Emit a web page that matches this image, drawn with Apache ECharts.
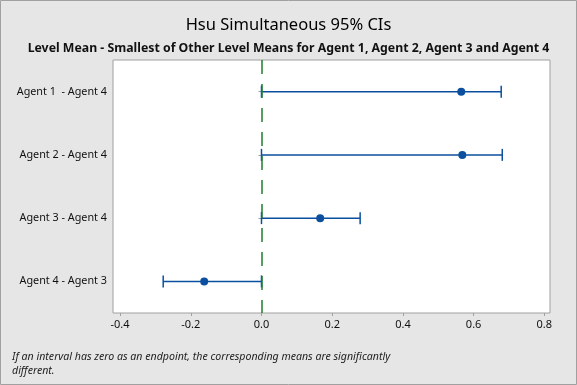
<!DOCTYPE html>
<html><head><meta charset="utf-8">
<script src="https://cdn.jsdelivr.net/npm/echarts@6/dist/echarts.min.js"></script>
<style>html,body{margin:0;padding:0;background:#e6e6e6;}#c{width:577px;height:385px;}</style>
</head><body><div id="c"></div>
<script>
const categories = ['Agent 1  - Agent 4', 'Agent 2 - Agent 4', 'Agent 3 - Agent 4', 'Agent 4 - Agent 3'];
const means = [0.565, 0.568, 0.166, -0.162];
const lowers = [0, 0, 0, -0.278];
const uppers = [0.678, 0.681, 0.279, 0];
const xTicks = [-0.4, -0.2, 0.0, 0.2, 0.4, 0.6, 0.8];

const FONT = '"Noto Sans", "Open Sans", sans-serif';
const BLUE = '#0b4f9e';
const chart = echarts.init(document.getElementById('c'), null, {renderer: 'canvas'});
chart.setOption({
  backgroundColor: '#e6e6e6',
  animation: false,
  title: [
    {text: 'Hsu Simultaneous 95% CIs', left: 'center', top: 12,
     textStyle: {fontFamily: FONT, fontSize: 16.5, fontWeight: 'normal', color: '#000'}},
    {text: 'Level Mean - Smallest of Other Level Means for Agent 1, Agent 2, Agent 3 and Agent 4',
     left: 'center', top: 37,
     textStyle: {fontFamily: FONT, fontSize: 12.3, fontWeight: 'bold', color: '#111'}}
  ],
  graphic: [
    {type: 'rect', shape: {x: 0.5, y: 0.5, width: 576, height: 384}, style: {fill: 'none', stroke: '#a0a0a0', lineWidth: 1}, silent: true},
    {type: 'text', left: 12, top: 350, style: {text: 'If an interval has zero as an endpoint, the corresponding means are significantly\ndifferent.', fontFamily: FONT, fontSize: 10.6, fontStyle: 'italic', fill: '#222', lineHeight: 14}}
  ],
  grid: {left: 113, right: 27, top: 60, bottom: 72, show: true, backgroundColor: '#ffffff', borderColor: '#a0a0a0', borderWidth: 1},
  xAxis: {
    type: 'value', min: -0.42, max: 0.816,
    interval: 0.2,
    axisLine: {show: false},
    splitLine: {show: false},
    axisTick: {show: true, length: 3, lineStyle: {color: '#a0a0a0'}, customValues: xTicks},
    axisLabel: {fontFamily: FONT, fontSize: 11, color: '#111', margin: 6, customValues: xTicks,
      formatter: v => v.toFixed(1)}
  },
  yAxis: {
    type: 'category', data: categories, inverse: true,
    axisLine: {show: false},
    axisTick: {show: true, length: 3, alignWithLabel: true, lineStyle: {color: '#a0a0a0'}},
    axisLabel: {fontFamily: FONT, fontSize: 10.8, color: '#111', margin: 6},
    splitLine: {show: false}
  },
  series: [
    {
      type: 'scatter', data: [], z: 1,
      markLine: {
        silent: true, symbol: 'none', label: {show: false},
        lineStyle: {color: '#1f7d2c', type: [14, 10], width: 1.5, opacity: 1},
        data: [{xAxis: 0}]
      }
    },
    {
      type: 'custom',
      data: categories.map((c, i) => [i, lowers[i], uppers[i]]),
      encode: {x: [1, 2], y: 0},
      renderItem: function (params, api) {
        const y = api.value(0);
        const p1 = api.coord([api.value(1), y]);
        const p2 = api.coord([api.value(2), y]);
        const h = 6;
        const st = {stroke: BLUE, lineWidth: 1.5};
        return {type: 'group', children: [
          {type: 'line', shape: {x1: p1[0], y1: p1[1], x2: p2[0], y2: p2[1]}, style: st},
          {type: 'line', shape: {x1: p1[0], y1: p1[1] - h, x2: p1[0], y2: p1[1] + h}, style: st},
          {type: 'line', shape: {x1: p2[0], y1: p2[1] - h, x2: p2[0], y2: p2[1] + h}, style: st}
        ]};
      },
      z: 3
    },
    {
      type: 'scatter',
      data: categories.map((c, i) => [means[i], i]),
      symbol: 'circle', symbolSize: 8,
      itemStyle: {color: BLUE, opacity: 1},
      z: 4
    }
  ]
});
</script></body></html>
